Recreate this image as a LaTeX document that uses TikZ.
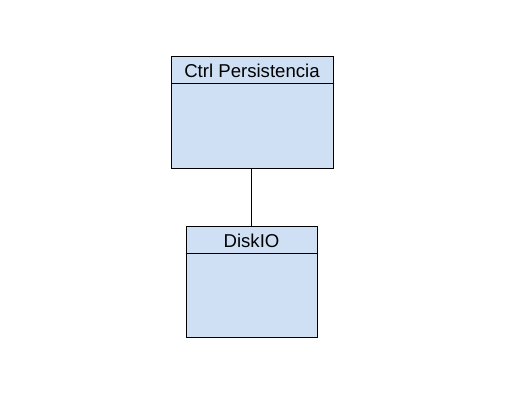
\documentclass[tikz,border=0pt]{standalone}
\usepackage{fontspec}
\setmainfont{Liberation Sans}
\definecolor{boxfill}{HTML}{D0E0F4}
\begin{document}
\begin{tikzpicture}[x=1pt,y=-1pt,
  classbox/.style={draw=black,fill=boxfill,line width=0.9pt},
  hdr/.style={font=\fontsize{18.6}{20}\selectfont,inner sep=0pt,anchor=center},
  conn/.style={draw=black,line width=0.9pt}]
\useasboundingbox (0,0) rectangle (514,400);
% box 1
\draw[classbox] (171,56) rectangle (333,168);
\draw[line width=0.9pt] (171,83.5) -- (333,83.5);
\node[hdr] (ctrl) at (252,70.5) {Ctrl Persistencia};
\coordinate (b1) at (251,168);
% box 2
\draw[classbox] (186,226) rectangle (317.5,337);
\draw[line width=0.9pt] (186,253.5) -- (317.5,253.5);
\node[hdr] (disk) at (251.5,240.5) {DiskIO};
\coordinate (b2) at (251,226);
\draw[conn] (b1) -- (b2);
\end{tikzpicture}
\end{document}
